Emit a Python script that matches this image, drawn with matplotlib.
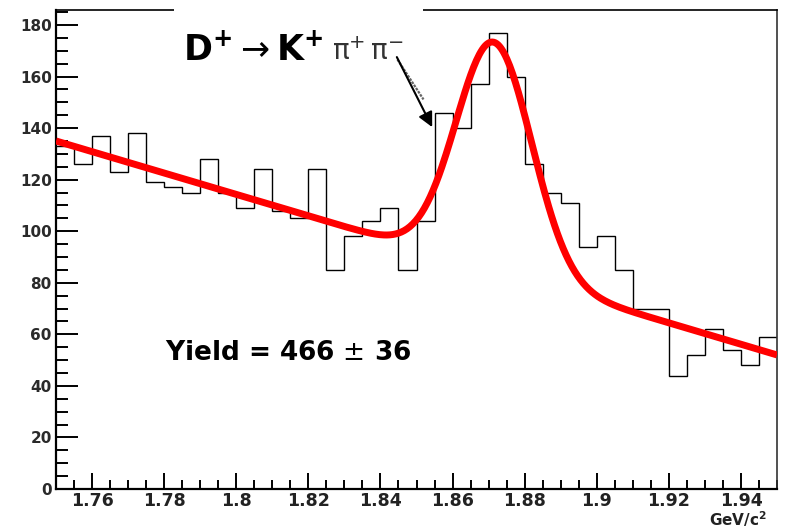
"""
D+ -> K+ pi+ pi- invariant mass spectrum with Gaussian + linear fit.
"""

import numpy as np
import matplotlib
matplotlib.use("Agg")
import matplotlib.pyplot as plt
from matplotlib.patches import Rectangle
from matplotlib.ticker import MultipleLocator

# Histogram: 40 bins of 5 MeV between 1.75 and 1.95 GeV/c^2
mass_lo = 1.75
mass_hi = 1.95
n_bins = 40
counts = [
    133, 126, 137, 123, 138, 119, 117, 115, 128, 115,
    109, 124, 108, 105, 124, 85, 98, 104, 109, 85,
    104, 146, 140, 157, 177, 160, 126, 115, 111, 94,
    98, 85, 70, 70, 44, 52, 62, 54, 48, 59,
]

# Fit parameters (linear background + Gaussian signal)
bkg_at_lo = 135.0      # background at 1.75
bkg_slope = -415.0     # per GeV/c^2
sig_amp = 88.7
sig_mean = 1.8715
sig_width = 0.0105

x_ticks = [1.76, 1.78, 1.80, 1.82, 1.84, 1.86, 1.88, 1.90, 1.92, 1.94]
x_tick_labels = ["1.76", "1.78", "1.8", "1.82", "1.84", "1.86", "1.88", "1.9", "1.92", "1.94"]
y_ticks = list(range(0, 181, 20))

plt.rcParams.update({
    "font.family": "DejaVu Sans",
    "mathtext.fontset": "dejavusans",
})

fig = plt.figure(figsize=(7.88, 5.29), dpi=100)
ax = fig.add_axes([56 / 788, 40 / 529, 721 / 788, 479 / 529])

edges = np.linspace(mass_lo, mass_hi, n_bins + 1)
ax.stairs(counts, edges, baseline=None, color="black", linewidth=1.0, zorder=2)

xf = np.linspace(mass_lo, mass_hi, 500)
yf = bkg_at_lo + bkg_slope * (xf - mass_lo) + sig_amp * np.exp(-0.5 * ((xf - sig_mean) / sig_width) ** 2)
ax.plot(xf, yf, color="#ff0000", linewidth=5.0, solid_capstyle="butt", zorder=3)

ax.set_xlim(mass_lo, mass_hi)
ax.set_ylim(0, 185.8)

ax.set_xticks(x_ticks)
ax.set_xticklabels(x_tick_labels)
ax.set_yticks(y_ticks)
ax.xaxis.set_minor_locator(MultipleLocator(0.005))
ax.yaxis.set_minor_locator(MultipleLocator(5))

ax.tick_params(axis="x", which="major", direction="in", length=11.3, width=1.4,
               pad=2.5, labelsize=12.5, labelcolor="#222222")
ax.tick_params(axis="x", which="minor", direction="in", length=6.5, width=1.4)
ax.tick_params(axis="y", which="major", direction="in", length=16, width=1.4,
               pad=3, labelsize=11, labelcolor="#2a2a2a")
ax.tick_params(axis="y", which="minor", direction="in", length=8.9, width=1.4)
for lab in ax.get_xticklabels() + ax.get_yticklabels():
    lab.set_fontweight("bold")

ax.spines["left"].set_linewidth(1.6)
ax.spines["bottom"].set_linewidth(1.6)
ax.spines["top"].set_linewidth(1.2)
ax.spines["right"].set_linewidth(1.2)
ax.spines["right"].set_color("#333333")

# white label box that hides part of the top frame
ax.add_patch(Rectangle((0.1637, 0.85), 0.345, 0.17, transform=ax.transAxes,
                       facecolor="white", edgecolor="none", clip_on=False, zorder=4))

# decay label: big bold D and K, lighter pions
ax.text(0.176, 0.8956, r"$\mathbf{D^{+}}\rightarrow\mathbf{K^{+}}$",
        transform=ax.transAxes, fontsize=25, ha="left", va="baseline", zorder=5)
ax.text(0.383, 0.8956, r"$\mathrm{\pi}^{+}\,\mathrm{\pi}^{-}$",
        transform=ax.transAxes, fontsize=20, color="#333333", ha="left", va="baseline", zorder=5)

# arrow pointing at the peak, with its grey shadow
ax.plot([1.84472, 1.85194], [166.6, 151.1], color="#666666", linewidth=1.6,
        linestyle=(0, (1.2, 0.5)), zorder=5, clip_on=False)
ax.annotate("", xy=(1.8547, 139.4), xytext=(1.8442, 168.5),
            arrowprops=dict(arrowstyle="-|>", color="black", lw=1.5, mutation_scale=22),
            zorder=5)

ax.text(0.151, 0.2693, r"Yield = 466 $\pm$ 36", transform=ax.transAxes,
        fontsize=19, fontweight="bold", ha="left", va="baseline")

ax.text(0.986, -0.0835, r"GeV/c$^\mathbf{2}$", transform=ax.transAxes,
        fontsize=11, fontweight="bold", color="#222222", ha="right", va="bottom", clip_on=False)

fig.savefig("out.png", dpi=100, facecolor="white")
print("saved out.png")
